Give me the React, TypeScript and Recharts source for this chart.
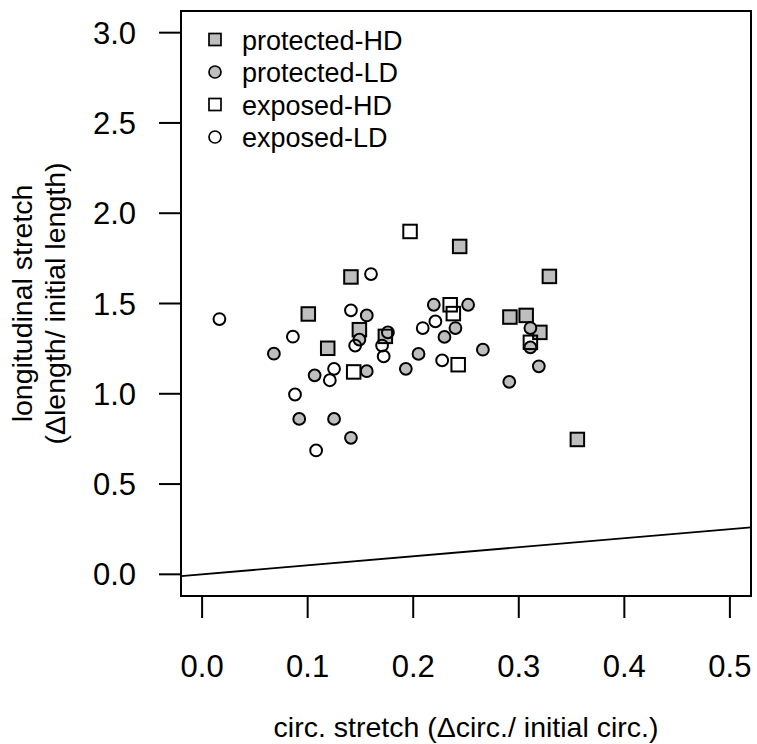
import React from "react";
import { ScatterChart, Scatter, XAxis, YAxis, ReferenceArea, ReferenceLine } from "recharts";

const protectedHD = [
  { x: 0.141, y: 1.647 }, { x: 0.1006, y: 1.442 }, { x: 0.149, y: 1.355 }, { x: 0.119, y: 1.252 },
  { x: 0.1736, y: 1.318 }, { x: 0.244, y: 1.816 }, { x: 0.329, y: 1.65 }, { x: 0.2916, y: 1.425 },
  { x: 0.307, y: 1.434 }, { x: 0.32, y: 1.34 }, { x: 0.3555, y: 0.747 },
];
const protectedLD = [
  { x: 0.156, y: 1.434 }, { x: 0.149, y: 1.3 }, { x: 0.068, y: 1.222 }, { x: 0.1066, y: 1.102 },
  { x: 0.156, y: 1.125 }, { x: 0.092, y: 0.861 }, { x: 0.125, y: 0.861 }, { x: 0.141, y: 0.756 },
  { x: 0.2195, y: 1.493 }, { x: 0.252, y: 1.493 }, { x: 0.311, y: 1.364 }, { x: 0.311, y: 1.257 },
  { x: 0.319, y: 1.152 }, { x: 0.291, y: 1.066 }, { x: 0.266, y: 1.244 }, { x: 0.24, y: 1.364 },
  { x: 0.2296, y: 1.315 }, { x: 0.205, y: 1.221 }, { x: 0.193, y: 1.138 },
];
const exposedHD = [
  { x: 0.197, y: 1.899 }, { x: 0.235, y: 1.493 }, { x: 0.238, y: 1.444 }, { x: 0.311, y: 1.285 },
  { x: 0.2426, y: 1.161 }, { x: 0.1436, y: 1.121 },
];
const exposedLD = [
  { x: 0.0164, y: 1.414 }, { x: 0.16, y: 1.663 }, { x: 0.141, y: 1.462 }, { x: 0.086, y: 1.316 },
  { x: 0.145, y: 1.267 }, { x: 0.125, y: 1.138 }, { x: 0.121, y: 1.075 }, { x: 0.088, y: 0.996 },
  { x: 0.108, y: 0.686 }, { x: 0.221, y: 1.401 }, { x: 0.209, y: 1.364 }, { x: 0.2274, y: 1.185 },
  { x: 0.176, y: 1.34 }, { x: 0.1705, y: 1.267 }, { x: 0.172, y: 1.207 },
];

const xTicks = [0, 0.1, 0.2, 0.3, 0.4, 0.5];
const yTicks = [0, 0.5, 1, 1.5, 2, 2.5, 3];
const xDomain: [number, number] = [-0.02, 0.52];
const yDomain: [number, number] = [-0.12, 3.12];
const lineSlope = 0.5;

const legendItems = [
  { label: "protected-HD", shape: "square", fill: "#bebebe" },
  { label: "protected-LD", shape: "circle", fill: "#bebebe" },
  { label: "exposed-HD", shape: "square", fill: "none" },
  { label: "exposed-LD", shape: "circle", fill: "none" },
];

const FONT = "'Liberation Sans', Arial, Helvetica, sans-serif";
const TICK_FS = 31;
const LAB_FS = 28.5;
const LEG_FS = 27;

const squareShape = (fill: string) => (p: any) => (
  <rect x={p.cx - 6.75} y={p.cy - 6.75} width={13.5} height={13.5} fill={fill} stroke="#000" strokeWidth={2} />
);
const circleShape = (fill: string) => (p: any) => (
  <circle cx={p.cx} cy={p.cy} r={5.9} fill={fill} stroke="#000" strokeWidth={2} />
);

const XTick = (p: any) => (
  <text x={p.x} y={p.y + 57} textAnchor="middle" fontFamily={FONT} fontSize={TICK_FS} fill="#000">
    {p.payload.value.toFixed(1)}
  </text>
);
const YTick = (p: any) => (
  <text x={p.x - 21} y={p.y + 11} textAnchor="end" fontFamily={FONT} fontSize={TICK_FS} fill="#000">
    {p.payload.value.toFixed(1)}
  </text>
);

export default function App() {
  const W = 757;
  const H = 744;
  return (
    <div style={{ position: "absolute", left: 0, top: 0, width: W, height: H, background: "#fff" }}>
      <ScatterChart width={W} height={H} margin={{ top: 11, right: 6, bottom: 0, left: 0 }}>
        <XAxis
          type="number"
          dataKey="x"
          domain={xDomain}
          ticks={xTicks}
          allowDataOverflow
          axisLine={false}
          tickSize={22}
          tickLine={{ stroke: "#000", strokeWidth: 2 }}
          tick={XTick}
          height={148}
        />
        <YAxis
          type="number"
          dataKey="y"
          domain={yDomain}
          ticks={yTicks}
          allowDataOverflow
          axisLine={false}
          tickSize={22}
          tickLine={{ stroke: "#000", strokeWidth: 2 }}
          tick={YTick}
          width={181}
        />
        <ReferenceArea
          x1={xDomain[0]}
          x2={xDomain[1]}
          y1={yDomain[0]}
          y2={yDomain[1]}
          fill="none"
          fillOpacity={0}
          stroke="#000"
          strokeWidth={2}
          ifOverflow="visible"
        />
        <ReferenceLine
          segment={[
            { x: xDomain[0], y: xDomain[0] * lineSlope },
            { x: xDomain[1], y: xDomain[1] * lineSlope },
          ]}
          stroke="#000"
          strokeWidth={1.8}
          ifOverflow="visible"
        />
        <Scatter data={protectedHD} shape={squareShape("#bebebe")} isAnimationActive={false} />
        <Scatter data={protectedLD} shape={circleShape("#bebebe")} isAnimationActive={false} />
        <Scatter data={exposedHD} shape={squareShape("none")} isAnimationActive={false} />
        <Scatter data={exposedLD} shape={circleShape("none")} isAnimationActive={false} />
      </ScatterChart>
      <svg width={W} height={H} style={{ position: "absolute", left: 0, top: 0, pointerEvents: "none" }}>
        {legendItems.map((it, i) => {
          const cy = 39.5 + i * 32.5;
          return (
            <g key={it.label}>
              {it.shape === "square" ? (
                <rect x={215 - 6} y={cy - 6} width={12} height={12} fill={it.fill} stroke="#000" strokeWidth={1.7} />
              ) : (
                <circle cx={215} cy={cy} r={6} fill={it.fill} stroke="#000" strokeWidth={1.7} />
              )}
              <text x={242} y={cy + 10} fontFamily={FONT} fontSize={LEG_FS} fill="#000">
                {it.label}
              </text>
            </g>
          );
        })}
        <text x={466} y={737} textAnchor="middle" fontFamily={FONT} fontSize={LAB_FS} fill="#000">
          circ. stretch (Δcirc./ initial circ.)
        </text>
        <g transform="translate(32,303.5) rotate(-90)">
          <text x={0} y={0} textAnchor="middle" fontFamily={FONT} fontSize={LAB_FS} fill="#000">
            longitudinal stretch
          </text>
          <text x={0} y={33} textAnchor="middle" fontFamily={FONT} fontSize={LAB_FS} fill="#000">
            (Δlength/ initial length)
          </text>
        </g>
      </svg>
    </div>
  );
}
